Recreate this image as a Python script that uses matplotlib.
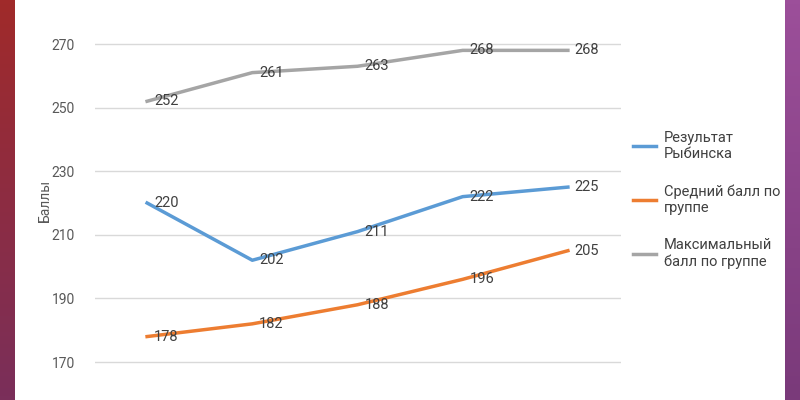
import numpy as np
import matplotlib.pyplot as plt
from matplotlib.colors import LinearSegmentedColormap

plt.rcParams['font.family'] = ['Roboto', 'DejaVu Sans']

categories = ['1', '2', '3', '4', '5']
rybinsk = [220, 202, 211, 222, 225]
group_avg = [178, 182, 188, 196, 205]
group_max = [252, 261, 263, 268, 268]
series = [
    ("Результат\nРыбинска", rybinsk, '#5B9BD5'),
    ("Средний балл по\nгруппе", group_avg, '#ED7D31'),
    ("Максимальный\nбалл по группе", group_max, '#A5A5A5'),
]

fig = plt.figure(figsize=(8, 4), dpi=100)

# decorative side strips
bg = fig.add_axes([0, 0, 1, 1], zorder=-10)
grad = np.linspace(0, 1, 100).reshape(-1, 1)
bg.imshow(grad, extent=[0, 15, 0, 400], aspect='auto',
          cmap=LinearSegmentedColormap.from_list('l', ['#a02a2a', '#7a2f5a']))
bg.imshow(grad, extent=[785, 800, 0, 400], aspect='auto',
          cmap=LinearSegmentedColormap.from_list('r', ['#9c4f9a', '#7a3a7a']))
bg.set_xlim(0, 800)
bg.set_ylim(0, 400)
bg.axis('off')

ax = fig.add_axes([94.5 / 800, 0, 526 / 800, 1])
ax.patch.set_alpha(0)
x = np.arange(len(categories))
for label, vals, color in series:
    ax.plot(x, vals, color=color, lw=2.5, label=label)
    for xi, v in zip(x, vals):
        ax.annotate(str(v), (xi, v), xytext=(5, 0), textcoords='offset points',
                    ha='left', va='center', fontsize=10.5, color='#404040')

ax.set_xlim(-0.5, 4.5)
ax.set_ylim(158.05, 283.84)
ax.set_yticks([170, 190, 210, 230, 250, 270])
ax.yaxis.grid(True, color='#d9d9d9', lw=1)
ax.set_xticks([])
for s in ax.spines.values():
    s.set_visible(False)
ax.tick_params(axis='y', length=0, labelsize=10, labelcolor='#595959', pad=14)
fig.text(45 / 800, 0.5, 'Баллы', rotation=90, ha='center', va='center',
         fontsize=10, color='#595959')

ax.legend(loc='center left', bbox_to_anchor=(620 / 800, 0.5), bbox_transform=fig.transFigure,
          frameon=False, fontsize=10.5, labelcolor='#404040', labelspacing=1.6,
          handlelength=1.6, handletextpad=0.5)

fig.savefig('out.png', dpi=100)
